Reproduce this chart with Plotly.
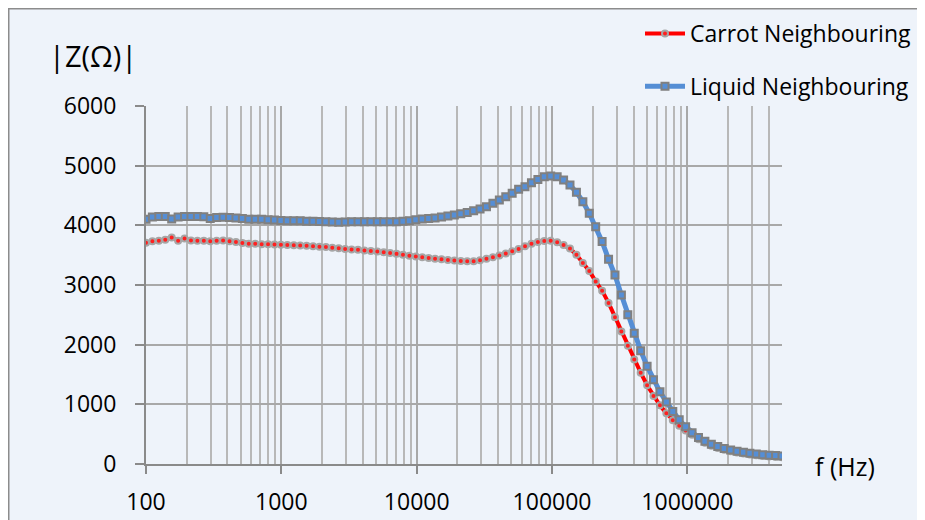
import plotly.graph_objects as go

# ---------------- data ----------------
FREQ_HZ = [100, 111.5, 124.4, 138.8, 154.8, 172.7, 192.7, 214.9, 239.7, 267.4,
           298.3, 332.7, 371.2, 414.0, 461.9, 515.2, 574.7, 641.1, 715.1, 797.7,
           889.8, 992.6, 1107, 1235, 1378, 1537, 1714, 1912, 2133, 2379,
           2654, 2961, 3303, 3684, 4110, 4584, 5114, 5704, 6363, 7098,
           7917, 8832, 9852, 10990, 12260, 13670, 15250, 17010, 18980, 21170,
           23620, 26340, 29390, 32780, 36570, 40790, 45500, 50750, 56620, 63150,
           70450, 78580, 87660, 97780, 109100, 121700, 135700, 151400, 168900, 188400,
           210100, 234400, 261500, 291700, 325400, 362900, 404900, 451600, 503800, 561900,
           626800, 699200, 780000, 870100, 970600, 1083000, 1208000, 1347000, 1503000, 1676000,
           1870000, 2086000, 2327000, 2595000, 2895000, 3229000, 3602000, 4018000, 4483000, 5000000]

CARROT = [3710, 3735, 3740, 3760, 3795, 3740, 3780, 3745, 3740, 3740,
          3735, 3740, 3745, 3735, 3720, 3705, 3690, 3690, 3685, 3682,
          3680, 3675, 3670, 3665, 3660, 3658, 3650, 3642, 3635, 3625,
          3615, 3605, 3597, 3590, 3580, 3570, 3560, 3548, 3538, 3522,
          3505, 3492, 3478, 3465, 3452, 3440, 3430, 3420, 3412, 3403,
          3398, 3400, 3415, 3438, 3464, 3495, 3528, 3565, 3605, 3650,
          3690, 3720, 3738, 3743, 3715, 3670, 3612, 3505, 3370, 3235,
          3060, 2905, 2700, 2460, 2220, 1980, 1750, 1530, 1320, 1140,
          985, 850, 735, 640, 560, 490, 415, 355, 305, 268,
          238, 213, 193, 176, 160, 147, 136, 127, 119, 112]

LIQUID = [4100, 4140, 4150, 4150, 4105, 4140, 4150, 4150, 4150, 4145,
          4115, 4130, 4135, 4130, 4125, 4115, 4100, 4100, 4100, 4095,
          4090, 4080, 4075, 4075, 4075, 4070, 4070, 4065, 4060, 4055,
          4050, 4055, 4060, 4060, 4060, 4060, 4060, 4060, 4060, 4062,
          4068, 4078, 4092, 4105, 4115, 4125, 4140, 4155, 4175, 4195,
          4215, 4245, 4275, 4313, 4369, 4425, 4480, 4536, 4603, 4648,
          4714, 4770, 4815, 4826, 4815, 4760, 4676, 4553, 4397, 4201,
          3978, 3727, 3432, 3168, 2832, 2500, 2190, 1900, 1640, 1410,
          1210, 1040, 880, 740, 625, 525, 445, 382, 332, 292,
          260, 234, 213, 195, 180, 167, 157, 148, 141, 135]

SERIES_NAMES = ["Carrot Neighbouring", "Liquid Neighbouring"]
X_TICKS = [100, 1000, 10000, 100000, 1000000]
X_TICK_LABELS = ["100", "1000", "10000", "100000", "1000000"]
Y_TICKS = [0, 1000, 2000, 3000, 4000, 5000, 6000]
Y_TICK_LABELS = ["0", "1000", "2000", "3000", "4000", "5000", "6000"]
X_MAX = 5000000
Y_TITLE = "|Z(Ω)|"
X_TITLE = "f (Hz)"

# ---------------- styling ----------------
# The page body adds an 8 px offset; targets below are in window pixels.
OFF = 8
W, H = 925, 520
ML, MT = 146 - OFF, 106 - OFF
MR = W - (782 - OFF)
MB = H - (464 - OFF)
PW, PH = W - ML - MR, H - MT - MB
BG = "#EEF3FA"
FONT = "Open Sans"


def px_x(p):
    return (p - OFF - ML) / PW


def px_y(p):
    return (H - MB - (p - OFF)) / PH


minor_vals = [m * 10 ** e for e in range(2, 7) for m in range(2, 10) if m * 10 ** e <= X_MAX]

fig = go.Figure()
fig.add_trace(go.Scatter(
    x=FREQ_HZ, y=CARROT, name=SERIES_NAMES[0], mode="lines+markers",
    line=dict(color="#FF0000", width=4),
    marker=dict(symbol="circle", size=6, color="#FF2020",
                line=dict(color="#A6A6A6", width=2)),
    legendgroup="a",
))
fig.add_trace(go.Scatter(
    x=FREQ_HZ, y=LIQUID, name=SERIES_NAMES[1], mode="lines+markers",
    line=dict(color="#558ED5", width=5),
    marker=dict(symbol="square", size=7, color="#558ED5",
                line=dict(color="#808080", width=2)),
    legendgroup="b",
))

fig.update_layout(
    width=W, height=H,
    margin=dict(l=ML, r=MR, t=MT, b=MB, pad=0, autoexpand=False),
    paper_bgcolor=BG, plot_bgcolor=BG,
    font=dict(family=FONT, size=23, color="#000000"),
    showlegend=True,
    legend=dict(x=px_x(640), y=px_y(12), xanchor="left", yanchor="top",
                bgcolor="rgba(0,0,0,0)", font=dict(size=23),
                tracegroupgap=20, itemwidth=40),
    shapes=[dict(type="rect", xref="paper", yref="paper", layer="below",
                 x0=px_x(OFF), x1=px_x(W + 40), y0=px_y(H + 40), y1=px_y(OFF),
                 fillcolor=BG, line=dict(color="#8C8C8C", width=3))],
    annotations=[
        dict(text=Y_TITLE, xref="paper", yref="paper", x=px_x(93), y=px_y(55),
             xanchor="center", yanchor="middle", showarrow=False,
             font=dict(size=29)),
        dict(text=X_TITLE, xref="paper", yref="paper", x=px_x(845), y=px_y(466),
             xanchor="center", yanchor="middle", showarrow=False,
             font=dict(size=25)),
    ],
)

fig.update_xaxes(
    type="log", range=[2, 6.69897],
    tickmode="array", tickvals=X_TICKS, ticktext=X_TICK_LABELS,
    ticks="outside", ticklen=8, tickwidth=1.5, tickcolor="#8A8A8A",
    showline=True, linecolor="#8A8A8A", linewidth=2,
    showgrid=True, gridcolor="#A8A8A8", gridwidth=2,
    minor=dict(tickmode="array", tickvals=minor_vals, showgrid=True,
               gridcolor="#B8B8B8", gridwidth=1.6, ticks=""),
    ticklabelstandoff=8, zeroline=False,
)
fig.update_yaxes(
    range=[0, 6000], tickmode="array", tickvals=Y_TICKS, ticktext=Y_TICK_LABELS,
    ticks="outside", ticklen=9, tickwidth=1.5, tickcolor="#8A8A8A",
    showline=True, linecolor="#8A8A8A", linewidth=2,
    showgrid=True, gridcolor="#A8A8A8", gridwidth=2,
    ticklabelstandoff=14, zeroline=False,
)

fig.write_html("out.html")
